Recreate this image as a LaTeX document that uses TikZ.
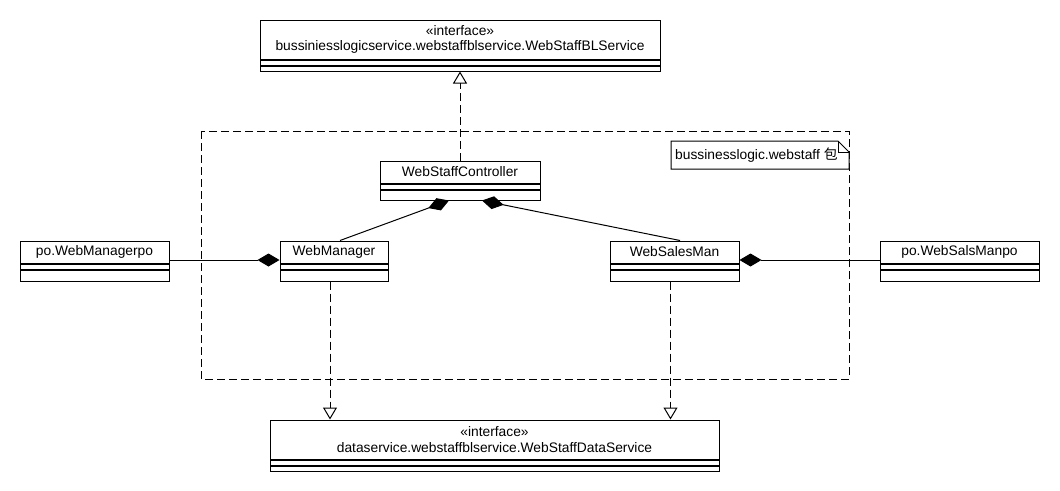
\documentclass[tikz,border=0pt]{standalone}
\usepackage{fontspec}
\setmainfont{Liberation Sans}
\newfontfamily\cjk{Noto Sans CJK SC}
\usetikzlibrary{arrows.meta}
\tikzset{
	umlname/.style={draw, line width=1pt, inner sep=0pt, minimum height=22pt, align=center, font=\fontsize{13.8}{15.5}\selectfont},
	umlpart/.style={draw, line width=1pt, inner sep=0pt, anchor=north},
	realize/.style={line width=1pt, dash pattern=on 8pt off 4pt, -{Triangle[open, length=12pt, width=14pt]}},
	comp/.style={line width=1pt, -{Diamond[length=22pt, width=13pt]}},
}
\def\umlclass[#1](#2)(#3)(#4:#5)#6{%
	\node[umlname, minimum width=#4pt, #1] (#2) at (#3) {#6};
	\node[umlpart, minimum width=#4pt, minimum height=5pt] (#2-attr) at (#2.south) {};
	\node[umlpart, minimum width=#4pt, minimum height=#5pt] (#2-ops) at (#2-attr.south) {};}

\begin{document}
\begin{tikzpicture}[x=1pt, y=-1pt]
		%%%%% START %%%%%
		\useasboundingbox (0,0) rectangle (1060,490);
		
		\draw[line width=1pt, dash pattern=on 8pt off 4pt] (201,131) rectangle (849,379);
		\draw[line width=1pt, fill=white] (671,141) -- (838,141) -- (849,152) -- (849,169) -- (671,169) -- cycle;
		\draw[line width=1pt] (838,141) |- (849,152);
		\node[anchor=west, inner sep=0pt, font=\fontsize{13.8}{15.5}\selectfont] (pkgname) at (675,155) {bussinesslogic.webstaff {\cjk 包}};
		
		\umlclass[minimum height=39pt](blservice)(460,39.5)(400:5){«interface»\\bussiniesslogicservice.webstaffblservice.WebStaffBLService}
		\umlclass[minimum height=39pt](dataservice)(494.5,439.5)(449:5){«interface»\\dataservice.webstaffblservice.WebStaffDataService}
		
		\umlclass[](controller)(460,172)(160:10){WebStaffController}
		\umlclass[](manager)(334,252)(108:11){WebManager}
		\umlclass[](salesman)(674.5,252)(129:11){WebSalesMan}
		\umlclass[](managerpo)(94.5,252)(149:11){po.WebManagerpo}
		\umlclass[](salespo)(959.5,252)(159:11){po.WebSalsManpo}
		
		\draw[realize] (controller.north) -- (blservice-ops.south);
		
		\draw[comp] ([xshift=6pt]manager.north) -- ([xshift=-11pt]controller-ops.south);
		\draw[comp] ([xshift=5.5pt]salesman.north) -- ([xshift=22pt]controller-ops.south);
		\draw[comp] ([yshift=-8pt]managerpo.east) -- ([yshift=-8pt]manager.west);
		\draw[comp] ([yshift=-8pt]salespo.west) -- ([yshift=-8pt]salesman.east);
		
		\coordinate (mgrdep) at ([xshift=-4pt]manager-ops.south);
		\coordinate (salesdep) at ([xshift=-4pt]salesman-ops.south);
		\draw[realize] (mgrdep) -- (mgrdep |- dataservice.north);
		\draw[realize] (salesdep) -- (salesdep |- dataservice.north);
		
		%%%%% END %%%%%
\end{tikzpicture}
\end{document}
